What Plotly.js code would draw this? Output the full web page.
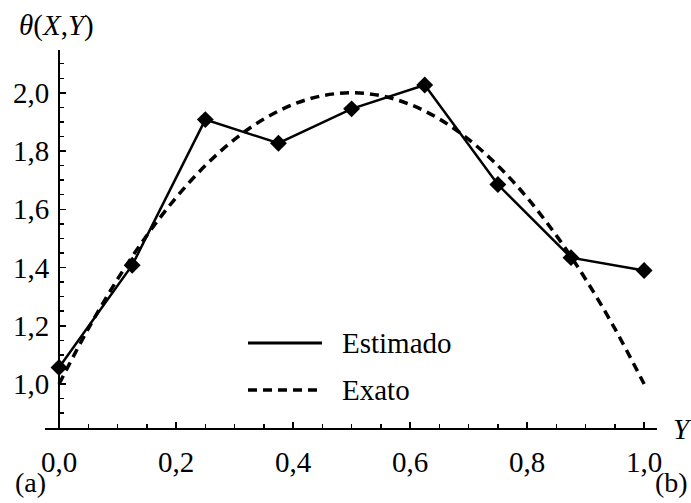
<!DOCTYPE html>
<html>
<head>
<meta charset="utf-8">
<script src="https://cdn.plot.ly/plotly-3.0.1.min.js"></script>
<style>html,body{margin:0;padding:0;background:#fff;}#plot{width:691px;height:503px;}</style>
</head>
<body>
<div id="plot"></div>
<script>
// Estimated series
const estX = [0.0, 0.125, 0.25, 0.375, 0.5, 0.625, 0.75, 0.875, 1.0];
const estY = [1.057, 1.408, 1.908, 1.827, 1.945, 2.027, 1.685, 1.434, 1.390];
// Exact curve
const exaX = [0.0, 0.05, 0.1, 0.15, 0.2, 0.25, 0.3, 0.35, 0.4, 0.45, 0.5, 0.55, 0.6, 0.65, 0.7, 0.75, 0.8, 0.85, 0.9, 0.95, 1.0];
const exaY = [1.00, 1.19, 1.36, 1.51, 1.64, 1.75, 1.84, 1.91, 1.96, 1.99, 2.00, 1.99, 1.96, 1.91, 1.84, 1.75, 1.64, 1.51, 1.36, 1.19, 1.00];
const legendNames = ['Estimado', 'Exato'];
const yTitle = '<i>θ</i>(<i>X</i>,<i>Y</i>)';
const xTitle = '<i>Y</i>';
const panelLabels = ['(a)', '(b)'];

const FONT = 'Liberation Serif, Times New Roman, serif';
const FS = 29;
const DASH = '9px,6px';

const traces = [
  {x: exaX, y: exaY, mode: 'lines', type: 'scatter', name: legendNames[1],
   line: {color: 'black', width: 3.5, dash: DASH, shape: 'spline'}, showlegend: false},
  {x: estX, y: estY, mode: 'lines+markers', type: 'scatter', name: legendNames[0],
   line: {color: 'black', width: 2.5}, marker: {symbol: 'diamond', size: 13, color: 'black'}, showlegend: false}
];

const tf = {family: FONT, size: FS, color: 'black'};
const pf = {family: FONT, size: 28, color: 'black'};

const layout = {
  width: 691, height: 503,
  margin: {l: 45, r: 34, t: 50, b: 75},
  paper_bgcolor: '#fff', plot_bgcolor: '#fff',
  separators: ',.',
  font: tf,
  showlegend: false,
  xaxis: {
    range: [-0.024, 1.022], showgrid: false, zeroline: false,
    showline: true, linecolor: 'black', linewidth: 2,
    ticks: 'inside', ticklen: 6, tickwidth: 1.5, tickcolor: 'black',
    tick0: 0, dtick: 0.2, tickformat: '.1f', ticklabelstandoff: 7,
    minor: {dtick: 0.05, ticks: 'inside', ticklen: 4, tickwidth: 1.5, tickcolor: 'black', showgrid: false},
    tickfont: tf
  },
  yaxis: {
    range: [0.849, 2.147], showgrid: false, zeroline: false,
    anchor: 'free', position: 0.0229,
    showline: true, linecolor: 'black', linewidth: 2,
    ticks: 'inside', ticklen: 6, tickwidth: 1.5, tickcolor: 'black',
    tick0: 0, dtick: 0.2, tickformat: '.1f', ticklabelstandoff: 3,
    minor: {dtick: 0.05, ticks: 'inside', ticklen: 4, tickwidth: 1.5, tickcolor: 'black', showgrid: false},
    tickfont: tf
  },
  shapes: [
    {type: 'line', xref: 'paper', yref: 'paper', x0: 0.3317, x1: 0.4526, y0: 0.2249, y1: 0.2249,
     line: {color: 'black', width: 3}},
    {type: 'line', xref: 'paper', yref: 'paper', x0: 0.3317, x1: 0.4526, y0: 0.1005, y1: 0.1005,
     line: {color: 'black', width: 3.5, dash: DASH}}
  ],
  annotations: [
    {text: legendNames[0], xref: 'paper', yref: 'paper', x: 0.482, y: 0.2249, xanchor: 'left', yanchor: 'middle', showarrow: false, font: tf},
    {text: legendNames[1], xref: 'paper', yref: 'paper', x: 0.482, y: 0.1005, xanchor: 'left', yanchor: 'middle', showarrow: false, font: tf},
    {text: yTitle, xref: 'paper', yref: 'paper', x: 0.0196, y: 1.066, xanchor: 'center', yanchor: 'middle', showarrow: false, font: tf},
    {text: xTitle, xref: 'paper', yref: 'paper', x: 1.041, y: -0.003, xanchor: 'center', yanchor: 'middle', showarrow: false, font: tf},
    {text: panelLabels[0], xref: 'paper', yref: 'paper', x: -0.0245, y: -0.1455, xanchor: 'center', yanchor: 'middle', showarrow: false, font: pf},
    {text: panelLabels[1], xref: 'paper', yref: 'paper', x: 1.0245, y: -0.1455, xanchor: 'center', yanchor: 'middle', showarrow: false, font: pf}
  ]
};

Plotly.newPlot('plot', traces, layout, {staticPlot: true, displayModeBar: false});
</script>
</body>
</html>
